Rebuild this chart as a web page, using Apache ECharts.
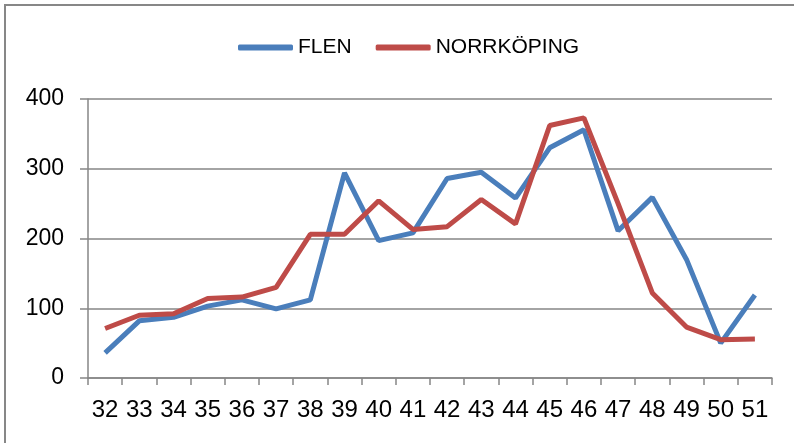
<!DOCTYPE html>
<html>
<head>
<meta charset="utf-8">
<script src="https://cdn.jsdelivr.net/npm/echarts@6/dist/echarts.min.js"></script>
<style>
  html, body { margin: 0; padding: 0; background: #fff; }
  #main { width: 794px; height: 443px; }
</style>
</head>
<body>
<div id="main"></div>
<script>
// veckor
var weeks = ['32','33','34','35','36','37','38','39','40','41','42','43','44','45','46','47','48','49','50','51'];
var flen = [36, 82, 87, 103, 112, 99, 112, 294, 197, 208, 286, 295, 258, 330, 356, 211, 259, 170, 50, 119];
var norrkoping = [71, 90, 92, 114, 116, 130, 206, 206, 254, 213, 217, 256, 221, 362, 373, 250, 122, 73, 55, 56];
var yTicks = [0, 100, 200, 300, 400];

var chartDom = document.getElementById('main');
var myChart = echarts.init(chartDom);
var option;

var font = '"Liberation Sans", Arial, sans-serif';

option = {
  animation: false,
  graphic: [{
    type: 'rect',
    shape: { x: 5, y: 5, width: 820, height: 460 },
    style: { fill: 'none', stroke: '#878787', lineWidth: 2 }
  }],
  legend: {
    top: 32,
    left: 233,
    itemWidth: 55,
    itemHeight: 6,
    itemGap: 24,
    icon: 'roundRect',
    textStyle: { fontFamily: font, fontSize: 21, color: '#000' },
    data: ['FLEN', 'NORRKÖPING']
  },
  grid: { left: 88, right: 22, top: 99, bottom: 65 },
  xAxis: {
    type: 'category',
    data: weeks,
    boundaryGap: true,
    axisLine: { lineStyle: { color: '#868686', width: 1.5 } },
    axisTick: { show: true, length: 7, lineStyle: { color: '#868686', width: 1.5 } },
    axisLabel: { fontFamily: font, fontSize: 24, color: '#000', margin: 20, interval: 0 }
  },
  yAxis: {
    type: 'value',
    min: yTicks[0],
    max: yTicks[yTicks.length - 1],
    interval: 100,
    axisLine: { show: true, lineStyle: { color: '#868686', width: 1.5 } },
    axisTick: { show: true, length: 8, lineStyle: { color: '#868686', width: 1.5 } },
    splitLine: { lineStyle: { color: '#868686', width: 1.5 } },
    axisLabel: { fontFamily: font, fontSize: 23, color: '#000', margin: 24 }
  },
  series: [
    {
      name: 'FLEN',
      type: 'line',
      data: flen,
      symbol: 'none',
      lineStyle: { color: '#4A7EBB', width: 5 },
      itemStyle: { color: '#4A7EBB' }
    },
    {
      name: 'NORRKÖPING',
      type: 'line',
      data: norrkoping,
      symbol: 'none',
      lineStyle: { color: '#BE4B48', width: 5 },
      itemStyle: { color: '#BE4B48' }
    }
  ]
};

option && myChart.setOption(option);
</script>
</body>
</html>
